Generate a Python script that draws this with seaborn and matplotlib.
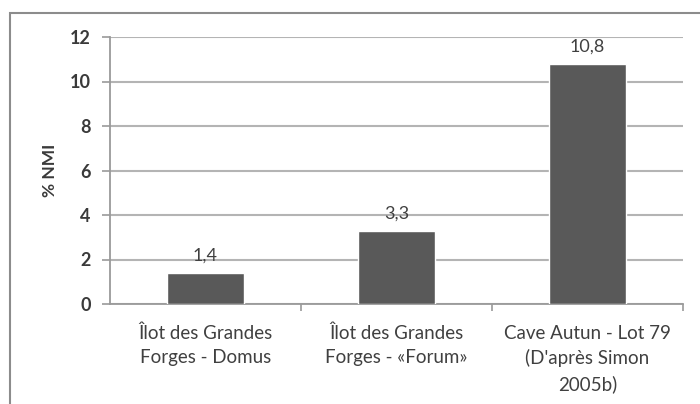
import matplotlib
matplotlib.use("Agg")
import matplotlib.pyplot as plt
from matplotlib.patches import Rectangle
import seaborn as sns
import pandas as pd

categories = [
    "Îlot des Grandes\nForges - Domus",
    "Îlot des Grandes\nForges - «Forum»",
    "Cave Autun - Lot 79\n(D'après Simon\n2005b)",
]
values = [1.4, 3.3, 10.8]
y_ticks = [0, 2, 4, 6, 8, 10, 12]
y_label = "% NMI"

sns.set_theme(style="white")
plt.rcParams["font.family"] = ["Lato", "DejaVu Sans"]

df = pd.DataFrame({"site": categories, "nmi": values})

fig = plt.figure(figsize=(7.0, 4.04), dpi=100)
ax = fig.add_axes([110 / 700, 1 - 304 / 404, 573 / 700, 267 / 404])

sns.barplot(data=df, x="site", y="nmi", color="#595959", width=0.4,
            saturation=1, ax=ax, zorder=3)

ax.set_ylim(0, 12)
ax.set_xlim(-0.5, 2.5)
ax.set_yticks(y_ticks)
ax.set_yticklabels([str(t) for t in y_ticks], fontweight="bold",
                   color="#3a3a3a", fontsize=13)
ax.yaxis.grid(True, color="#b4b4b4", linewidth=1.5, zorder=0)
ax.xaxis.grid(False)

# category labels centred under the bars, tick marks between categories
ax.set_xticks(range(len(categories)))
ax.set_xticklabels(categories, fontsize=13.5, color="#404040", linespacing=1.5)
ax.tick_params(axis="x", which="major", length=0, pad=15)
ax.set_xticks([0.5, 1.5, 2.5], minor=True)
ax.tick_params(axis="x", which="minor", length=5, width=1.2, color="#9a9a9a",
               direction="out", bottom=True)
ax.tick_params(axis="y", length=6, width=1.2, color="#9a9a9a",
               direction="out", left=True, pad=8)

ax.set_xlabel("")
ax.set_ylabel(y_label, fontweight="bold", fontsize=12.5, color="#3a3a3a",
              labelpad=8)

for side in ("top", "right"):
    ax.spines[side].set_visible(False)
for side in ("left", "bottom"):
    ax.spines[side].set_color("#9a9a9a")
    ax.spines[side].set_linewidth(1.3)

for i, v in enumerate(values):
    ax.text(i, v + 0.4, f"{v:.1f}".replace(".", ","), ha="center",
            va="bottom", fontsize=13, color="#404040")

# outer chart frame
fig.patches.append(Rectangle((10 / 700, -0.2), 1.2, 1.2 - 13 / 404,
                             transform=fig.transFigure, fill=False,
                             edgecolor="#8c8c8c", linewidth=1.5))

fig.savefig("out.png", dpi=100, facecolor="white")
